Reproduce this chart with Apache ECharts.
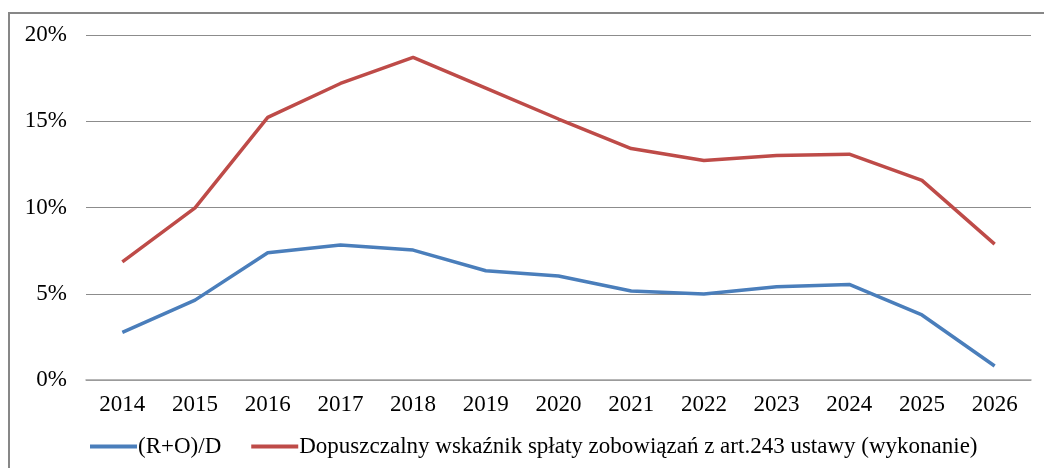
<!DOCTYPE html>
<html>
<head>
<meta charset="utf-8">
<script src="https://cdn.jsdelivr.net/npm/echarts@6/dist/echarts.min.js"></script>
<style>
html, body { margin: 0; padding: 0; background: #fff; }
#chart { width: 1044px; height: 468px; }
</style>
</head>
<body>
<div id="chart"></div>
<script>
// lata
var years = ['2014', '2015', '2016', '2017', '2018', '2019', '2020', '2021', '2022', '2023', '2024', '2025', '2026'];
// (R+O)/D w %
var roD = [2.76, 4.63, 7.38, 7.82, 7.53, 6.33, 6.03, 5.16, 4.98, 5.41, 5.54, 3.77, 0.81];
// wskaznik dopuszczalny w %
var limit = [6.85, 9.98, 15.22, 17.19, 18.70, 16.92, 15.13, 13.42, 12.73, 13.02, 13.09, 11.57, 7.88];
var seriesNames = ['(R+O)/D', 'Dopuszczalny wskaźnik spłaty zobowiązań z art.243 ustawy (wykonanie)'];

var fontFam = '"Liberation Serif", "Times New Roman", serif';
var chart = echarts.init(document.getElementById('chart'));

chart.setOption({
    animation: false,
    backgroundColor: '#fff',
    graphic: [{
        type: 'rect',
        shape: { x: 9, y: 13, width: 1100, height: 500 },
        style: { fill: 'none', stroke: '#878787', lineWidth: 2 },
        silent: true
    }],
    grid: { left: 86, right: 13, top: 35, bottom: 88, containLabel: false },
    legend: {
        left: 90,
        top: 435,
        padding: 0,
        icon: 'rect',
        itemWidth: 47,
        itemHeight: 4,
        itemGap: 30,
        textStyle: { fontFamily: fontFam, fontSize: 23, color: '#000', padding: [0, 0, 0, -4] },
        data: seriesNames
    },
    xAxis: {
        type: 'category',
        data: years,
        boundaryGap: true,
        axisLine: { lineStyle: { color: '#a0a0a0', width: 1.5 } },
        axisTick: { show: false },
        axisLabel: { fontFamily: fontFam, fontSize: 23, color: '#000', margin: 13 }
    },
    yAxis: {
        type: 'value',
        min: 0,
        max: 20,
        interval: 5,
        axisLine: { show: false },
        axisTick: { show: false },
        axisLabel: { fontFamily: fontFam, fontSize: 23, color: '#000', margin: 19, formatter: '{value}%' },
        splitLine: { lineStyle: { color: '#8c8c8c', width: 1.2 } }
    },
    series: [{
        name: seriesNames[0],
        type: 'line',
        data: roD,
        symbol: 'none',
        color: '#4a7ebb',
        lineStyle: { color: '#4a7ebb', width: 3.5 }
    }, {
        name: seriesNames[1],
        type: 'line',
        data: limit,
        symbol: 'none',
        color: '#be4b48',
        lineStyle: { color: '#be4b48', width: 3.5 }
    }]
});
</script>
</body>
</html>
